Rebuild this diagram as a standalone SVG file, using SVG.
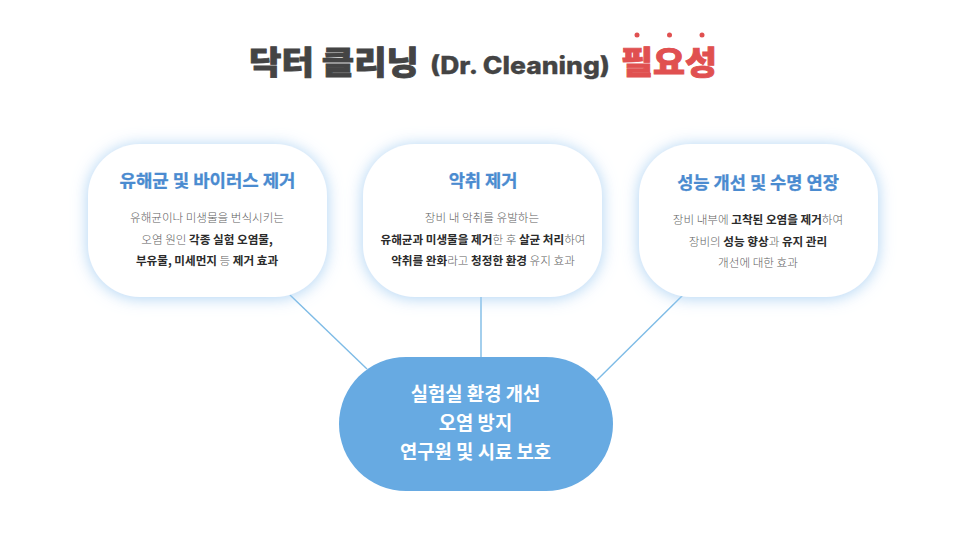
<svg xmlns="http://www.w3.org/2000/svg" width="966" height="533" viewBox="0 0 966 533">
<defs>
<filter id="glow" x="-20%" y="-25%" width="140%" height="150%"><feDropShadow dx="0" dy="1" stdDeviation="8" flood-color="#a3cdf2" flood-opacity="0.9"/></filter>
</defs>
<style>
text{font-family:"Noto Sans CJK KR","Noto Sans",sans-serif;text-anchor:middle}
.card{fill:#fff;filter:url(#glow)}
.h{font-size:17.600px;font-weight:700;fill:#4a8bd0;stroke:#4a8bd0;stroke-width:.3}
.b{font-size:11.600px;font-weight:300;fill:#5f5f5f}
.s{font-weight:700;fill:#2b2b2b}
.c{font-size:18.800px;font-weight:700;fill:#fff}
.t{font-weight:900;fill:#444;stroke:#444;stroke-width:.9}
.r{fill:#e05050;stroke:#e05050}
.line{stroke:#7dbbe6;stroke-width:1.4;fill:none}
</style>
<rect width="966" height="533" fill="#fff"/>
<g id="title">
<text class="t" x="334" y="74" font-size="31.500" textLength="170" lengthAdjust="spacingAndGlyphs">닥터 클리닝</text>
<text class="t" x="520" y="74" font-size="24" style="font-family:Inter,sans-serif;font-weight:800;stroke-width:.3" textLength="180" lengthAdjust="spacingAndGlyphs">(Dr. Cleaning)</text>
<text class="t r" x="669" y="74" font-size="31.500" textLength="96" lengthAdjust="spacingAndGlyphs">필요성</text>
<circle cx="637" cy="35" r="2.500" fill="#e05050"/><circle cx="669.500" cy="35" r="2.500" fill="#e05050"/><circle cx="702" cy="35" r="2.500" fill="#e05050"/>
</g>
<g id="connectors">
<line class="line" x1="290" y1="295" x2="367" y2="369"/>
<line class="line" x1="481" y1="297" x2="481" y2="358"/>
<line class="line" x1="683" y1="295" x2="597" y2="380"/>
</g>
<g id="card1">
<rect class="card" x="88" y="144" width="239" height="153" rx="52"/>
<text class="h" x="207.500" y="187" textLength="176" lengthAdjust="spacingAndGlyphs">유해균 및 바이러스 제거</text>
<text class="b" x="207" y="222" textLength="154">유해균이나 미생물을 번식시키는</text>
<text class="b" x="207" y="244">오염 원인 <tspan class="s">각종 실험 오염물,</tspan></text>
<text class="b" x="207" y="265"><tspan class="s">부유물, 미세먼지</tspan> 등 <tspan class="s">제거 효과</tspan></text>
</g>
<g id="card2">
<rect class="card" x="363" y="144" width="239" height="153" rx="52"/>
<text class="h" x="483" y="187">악취 제거</text>
<text class="b" x="482" y="222">장비 내 악취를 유발하는</text>
<text class="b" x="483" y="244"><tspan class="s">유해균과 미생물을 제거</tspan>한 후 <tspan class="s">살균 처리</tspan>하여</text>
<text class="b" x="483" y="265"><tspan class="s">악취를 완화</tspan>라고 <tspan class="s">청정한 환경</tspan> 유지 효과</text>
</g>
<g id="card3">
<rect class="card" x="639" y="144" width="239" height="153" rx="52"/>
<text class="h" x="758" y="189">성능 개선 및 수명 연장</text>
<text class="b" x="758" y="224">장비 내부에 <tspan class="s">고착된 오염을 제거</tspan>하여</text>
<text class="b" x="758" y="246">장비의 <tspan class="s">성능 향상</tspan>과 <tspan class="s">유지 관리</tspan></text>
<text class="b" x="758" y="267">개선에 대한 효과</text>
</g>
<g id="center">
<rect x="339" y="357" width="274" height="134" rx="67" fill="#67aae2"/>
<text class="c" x="475.500" y="400.500">실험실 환경 개선</text>
<text class="c" x="475.500" y="429.500">오염 방지</text>
<text class="c" x="475.500" y="458.500">연구원 및 시료 보호</text>
</g>
</svg>
